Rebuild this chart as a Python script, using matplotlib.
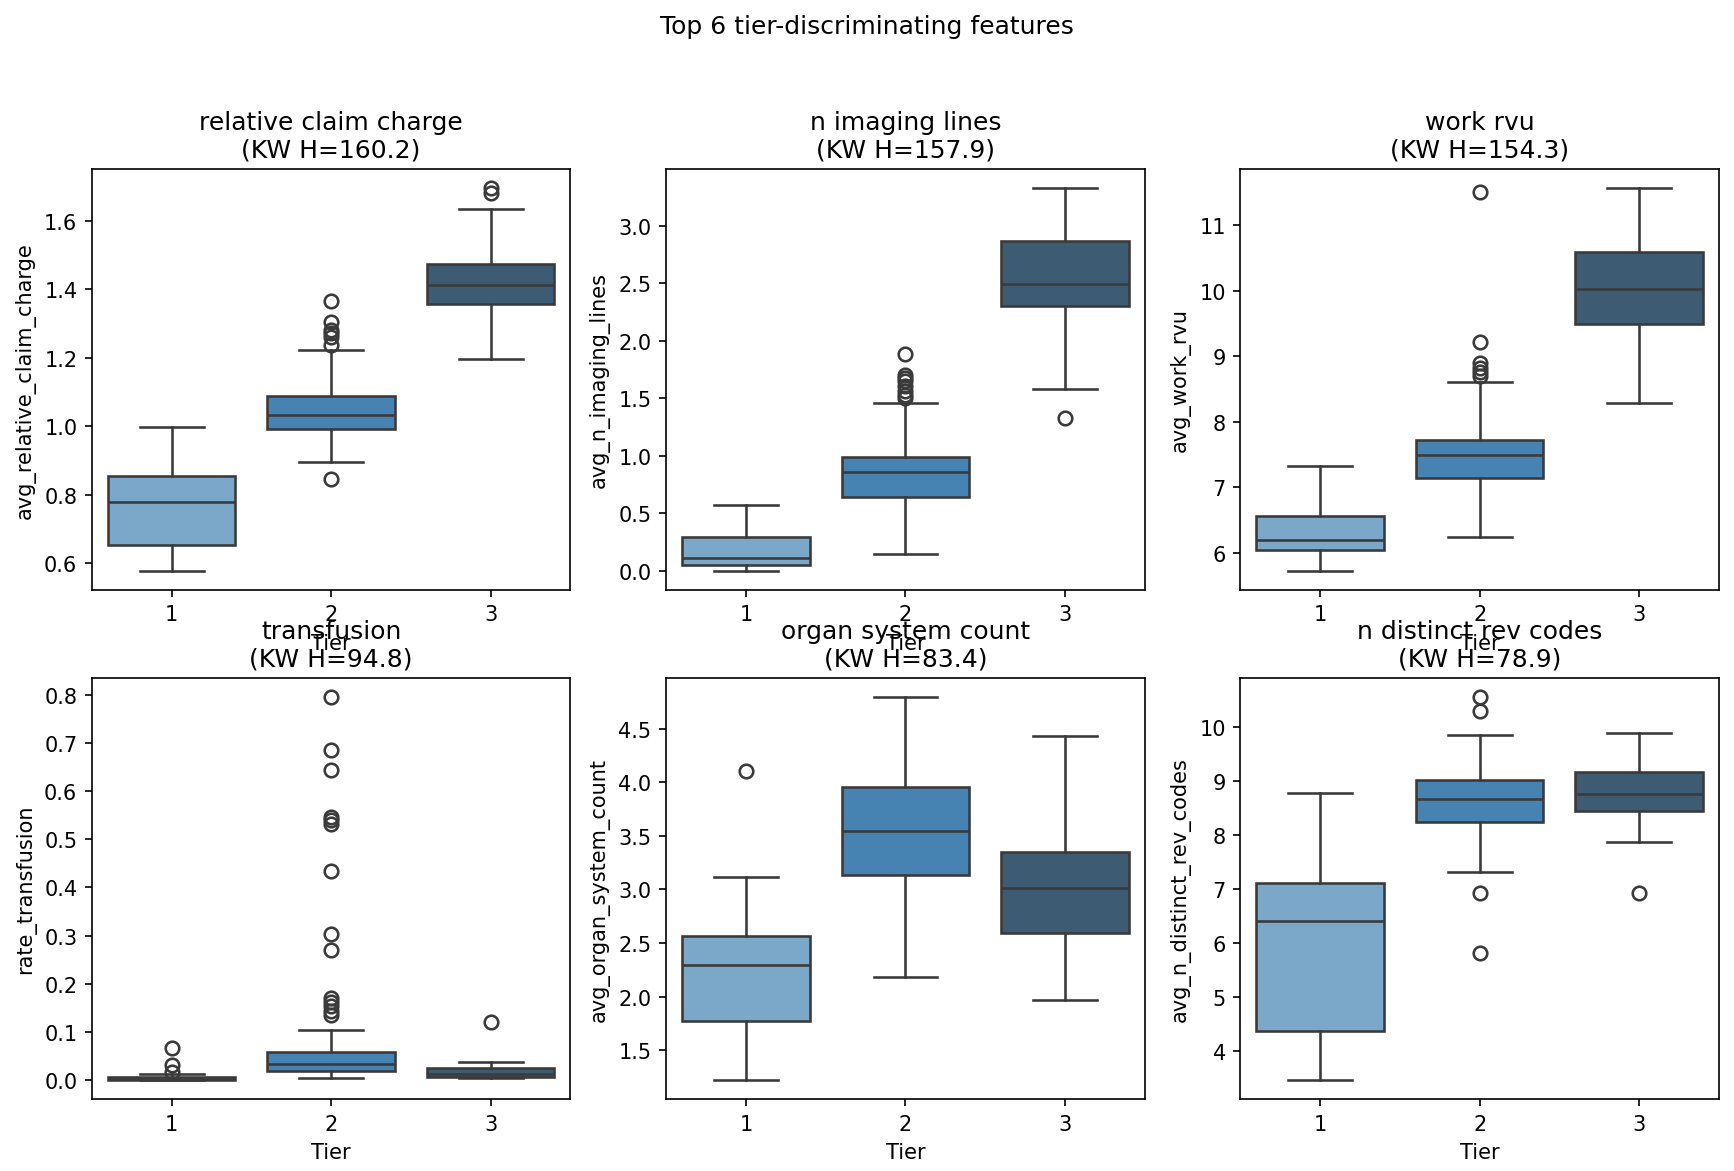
import matplotlib
matplotlib.use("Agg")
import matplotlib.pyplot as plt

# ---------------- data ----------------
tiers = ["1", "2", "3"]

features = ["relative claim charge", "n imaging lines", "work rvu",
            "transfusion", "organ system count", "n distinct rev codes"]
ylabels = ["avg_relative_claim_charge", "avg_n_imaging_lines", "avg_work_rvu",
           "rate_transfusion", "avg_organ_system_count", "avg_n_distinct_rev_codes"]
kw_h = [160.2, 157.9, 154.3, 94.8, 83.4, 78.9]

# per feature: [tier1, tier2, tier3]
whisker_lo = [
    [0.579, 0.895, 1.196],
    [0.000, 0.148, 1.576],
    [5.725, 6.245, 8.281],
    [0.000, 0.003, 0.003],
    [1.224, 2.184, 1.973],
    [3.466, 7.312, 7.871],
]
q1 = [
    [0.653, 0.991, 1.356],
    [0.052, 0.645, 2.300],
    [6.040, 7.133, 9.485],
    [0.000, 0.019, 0.006],
    [1.769, 3.131, 2.589],
    [4.365, 8.244, 8.450],
]
median = [
    [0.780, 1.032, 1.413],
    [0.110, 0.855, 2.494],
    [6.194, 7.485, 10.020],
    [0.002, 0.034, 0.013],
    [2.298, 3.540, 3.017],
    [6.400, 8.669, 8.756],
]
q3 = [
    [0.854, 1.088, 1.474],
    [0.297, 0.991, 2.866],
    [6.560, 7.724, 10.587],
    [0.007, 0.057, 0.024],
    [2.566, 3.958, 3.352],
    [7.119, 9.015, 9.168],
]
whisker_hi = [
    [0.997, 1.222, 1.635],
    [0.567, 1.456, 3.328],
    [7.316, 8.612, 11.566],
    [0.013, 0.103, 0.037],
    [3.118, 4.791, 4.426],
    [8.782, 9.854, 9.894],
]
fliers = [
    [[], [0.846, 1.236, 1.262, 1.272, 1.280, 1.304, 1.365], [1.682, 1.695]],
    [[], [1.50, 1.53, 1.56, 1.61, 1.65, 1.68, 1.70, 1.887], [1.328]],
    [[], [8.694, 8.755, 8.820, 8.898, 9.219, 11.50], []],
    [[0.017, 0.031, 0.067],
     [0.134, 0.144, 0.153, 0.161, 0.170, 0.270, 0.304, 0.435,
      0.532, 0.540, 0.546, 0.643, 0.685, 0.795],
     [0.121]],
    [[4.102], [], []],
    [[], [5.815, 6.926, 10.30, 10.55], [6.926]],
]

tier_colors = ["#7ba8c9", "#4783b2", "#3d5b72"]
line_color = "#3a3a3a"

# ---------------- figure ----------------
fig, axes = plt.subplots(2, 3, figsize=(11.56, 7.8133), dpi=150)
fig.subplots_adjust(left=0.053, right=0.9913, top=0.855, bottom=0.0614,
                    wspace=0.2, hspace=0.21)

for i, ax in enumerate(axes.flat):
    stats = []
    for t in range(3):
        stats.append(dict(med=median[i][t], q1=q1[i][t], q3=q3[i][t],
                          whislo=whisker_lo[i][t], whishi=whisker_hi[i][t],
                          fliers=fliers[i][t], label=tiers[t]))
    bp = ax.bxp(stats, positions=range(3), widths=0.8, capwidths=0.4,
                patch_artist=True, showfliers=True,
                boxprops=dict(edgecolor=line_color, linewidth=1.25),
                medianprops=dict(color=line_color, linewidth=1.25),
                whiskerprops=dict(color=line_color, linewidth=1.25),
                capprops=dict(color=line_color, linewidth=1.25),
                flierprops=dict(marker="o", markerfacecolor="none",
                                markeredgecolor=line_color, markersize=6.5,
                                markeredgewidth=1.25, linestyle="none"))
    for patch, c in zip(bp["boxes"], tier_colors):
        patch.set_facecolor(c)
    ax.set_xlim(-0.5, 2.5)
    ax.set_xticks(range(3))
    ax.set_xticklabels(tiers)
    ax.set_xlabel("Tier")
    ax.set_ylabel(ylabels[i])
    ax.set_title(f"{features[i]}\n(KW H={kw_h[i]:.1f})")

fig.suptitle("Top 6 tier-discriminating features", y=0.987)
fig.savefig("out.png", dpi=150)
